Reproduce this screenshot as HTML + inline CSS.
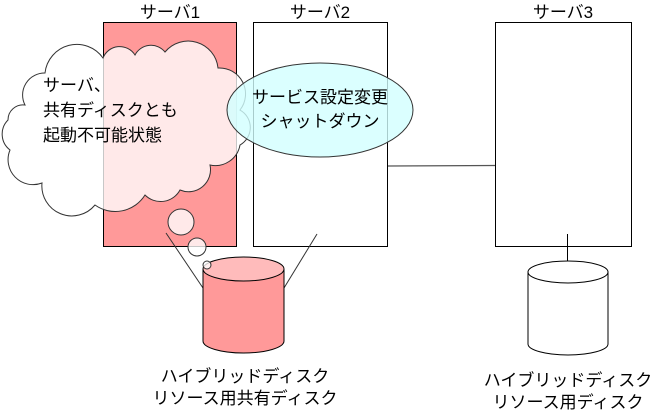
<!DOCTYPE html>
<html><head><meta charset="utf-8"><style>
body{margin:0;background:#fff}
svg text{font-family:"Liberation Sans","Noto Sans CJK JP",sans-serif;font-size:17px;fill:#000}
</style></head><body>
<svg width="652" height="412" viewBox="0 0 652 412" xmlns="http://www.w3.org/2000/svg">
<rect x="0" y="0" width="652" height="412" fill="#fff"/>
<text x="170" y="18" text-anchor="middle">サーバ1</text>
<text x="320" y="18" text-anchor="middle">サーバ2</text>
<text x="563" y="18" text-anchor="middle">サーバ3</text>
<rect x="103.5" y="22.5" width="133" height="224" fill="#ff9999" stroke="#000"/>
<rect x="253.5" y="22.5" width="134" height="224" fill="#fff" stroke="#000"/>
<rect x="495.5" y="22.5" width="136" height="224" fill="#fff" stroke="#000"/>
<line x1="388" y1="166" x2="495" y2="165.5" stroke="#555" stroke-width="1.2"/>
<line x1="166" y1="233" x2="203" y2="288" stroke="#333"/>
<line x1="317" y1="234" x2="284" y2="288" stroke="#333"/>
<line x1="567.5" y1="234" x2="567.5" y2="266" stroke="#000"/>
<!-- disk1 -->
<path d="M203 269 V341 A40.5 12 0 0 0 284 341 V269" fill="#ff9999" stroke="#000"/>
<ellipse cx="243.5" cy="269" rx="40.5" ry="12" fill="#ffbbbb" stroke="#000"/>
<!-- disk3 -->
<path d="M528 272 V344 A40 11 0 0 0 608 344 V272" fill="#fff" stroke="#000"/>
<ellipse cx="568" cy="272" rx="40" ry="11" fill="#fff" stroke="#000"/>
<!-- cloud -->
<path d="M25 105 A22 22 0 0 1 45 73 A32 32 0 0 1 103 58 A18 18 0 0 1 135 55 A18 18 0 0 1 165 52 A30 30 0 0 1 218 68 A26 26 0 0 1 240 110 A20 20 0 0 1 240 145 A25 25 0 0 1 210 165 A22 22 0 0 1 180 190 A22 22 0 0 1 145 195 A35 35 0 0 1 95 205 A30 30 0 0 1 42 183 A25 25 0 0 1 10 150 A20 20 0 0 1 8 120 A15 15 0 0 1 25 105 Z" fill="rgba(255,255,255,0.78)" stroke="#333"/>
<circle cx="181" cy="222" r="13" fill="rgba(255,255,255,0.78)" stroke="#333"/>
<circle cx="197" cy="247" r="9" fill="rgba(255,255,255,0.78)" stroke="#333"/>
<circle cx="207" cy="265" r="4" fill="rgba(255,255,255,0.78)" stroke="#333"/>
<text x="43" y="91">サーバ、</text>
<text x="43" y="116">共有ディスクとも</text>
<text x="43" y="141">起動不可能状態</text>
<!-- ellipse -->
<ellipse cx="320" cy="110" rx="93" ry="47" fill="rgba(210,255,255,0.8)" stroke="#333"/>
<text x="320" y="103" text-anchor="middle">サービス設定変更</text>
<text x="320" y="127" text-anchor="middle">シャットダウン</text>
<text x="245" y="382" text-anchor="middle">ハイブリッドディスク</text>
<text x="245" y="404" text-anchor="middle">リソース用共有ディスク</text>
<text x="568" y="386" text-anchor="middle">ハイブリッドディスク</text>
<text x="568" y="408" text-anchor="middle">リソース用ディスク</text>
</svg>
</body></html>
